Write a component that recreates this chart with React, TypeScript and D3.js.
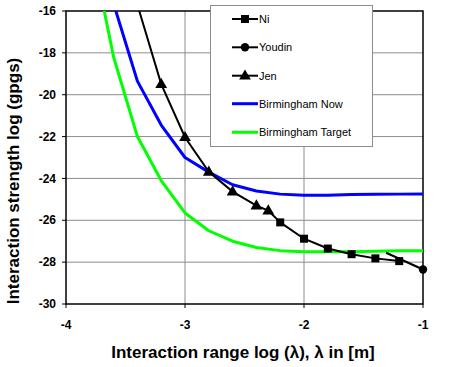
import React from "react";
import * as d3 from "d3";

const xTicks = [-4, -3, -2, -1];
const yTicks = [-16, -18, -20, -22, -24, -26, -28, -30];

const niX = [-2.2, -2.0, -1.8, -1.6, -1.4, -1.2];
const niY = [-26.1, -26.88, -27.35, -27.62, -27.82, -27.95];

const youdinX = [-1.31, -1.0];
const youdinY = [-27.55, -28.35];
const youdinMarkerIdx = [1];

const jenX = [-3.4, -3.2, -3.0, -2.8, -2.6, -2.4, -2.3, -2.2];
const jenY = [-15.7, -19.49, -22.03, -23.68, -24.63, -25.3, -25.54, -26.1];
const jenMarkerIdx = [1, 2, 3, 4, 5, 6];

const nowX = [-3.6, -3.4, -3.2, -3.0, -2.8, -2.6, -2.4, -2.2, -2.0, -1.8, -1.6, -1.4, -1.2, -1.0];
const nowY = [-15.65, -19.35, -21.45, -23.0, -23.7, -24.3, -24.6, -24.75, -24.8, -24.8, -24.77, -24.76, -24.75, -24.74];

const targetX = [-3.7, -3.6, -3.4, -3.2, -3.0, -2.8, -2.6, -2.4, -2.2, -2.0, -1.8, -1.6, -1.4, -1.2, -1.0];
const targetY = [-15.4, -18.2, -22.0, -24.1, -25.65, -26.5, -27.0, -27.3, -27.45, -27.5, -27.5, -27.5, -27.48, -27.46, -27.45];

const legendLabels = ["Ni", "Youdin", "Jen", "Birmingham Now", "Birmingham Target"];

const W = 450, H = 367;
const L = 66, R = 423, T = 11, B = 304;
const FONT = "Arial, 'Liberation Sans', sans-serif";

export default function App() {
  const x = d3.scaleLinear().domain([-4, -1]).range([L, R]);
  const y = d3.scaleLinear().domain([-30, -16]).range([B, T]);
  const line = d3.line<[number, number]>().x(d => x(d[0])).y(d => y(d[1]));
  const pts = (xs: number[], ys: number[]) => xs.map((v, i) => [v, ys[i]] as [number, number]);

  const sq = (cx: number, cy: number, k: string) => <rect key={k} x={cx - 4} y={cy - 4} width={8} height={8} fill="black" />;
  const circ = (cx: number, cy: number, k: string) => <circle key={k} cx={cx} cy={cy} r={4.2} fill="black" />;
  const tri = (cx: number, cy: number, k: string) => {
    const p = d3.symbol(d3.symbolTriangle, 60)();
    return <path key={k} d={p || ""} transform={`translate(${cx},${cy + 0.5})`} fill="black" />;
  };

  const legendYs = [19, 47.3, 75.7, 103.7, 132.3];

  return (
    <svg width={W} height={H} style={{ position: "absolute", left: 0, top: 0, background: "white" }} fontFamily={FONT}>
      <defs>
        <clipPath id="plotclip">
          <rect x={L} y={T} width={R - L} height={B - T} />
        </clipPath>
      </defs>
      {yTicks.filter(t => t !== -16 && t !== -30).map(t => (
        <line key={"gy" + t} x1={L} x2={R} y1={y(t)} y2={y(t)} stroke="#8c8c8c" strokeWidth={1} />
      ))}
      {xTicks.filter(t => t !== -4 && t !== -1).map(t => (
        <line key={"gx" + t} x1={x(t)} x2={x(t)} y1={T} y2={B} stroke="#8c8c8c" strokeWidth={1} />
      ))}
      <rect x={L} y={T} width={R - L} height={B - T} fill="none" stroke="black" strokeWidth={1.5} />
      {yTicks.map(t => (
        <g key={"ty" + t}>
          <line x1={L - 4} x2={L} y1={y(t)} y2={y(t)} stroke="black" strokeWidth={1} />
          <text x={L - 10} y={y(t)} dy="0.35em" textAnchor="end" fontSize={12} fontWeight="bold">{t}</text>
        </g>
      ))}
      {xTicks.map(t => (
        <g key={"tx" + t}>
          <line x1={x(t)} x2={x(t)} y1={B} y2={B + 4} stroke="black" strokeWidth={1} />
          <text x={x(t)} y={325} dy="0.35em" textAnchor="middle" fontSize={12} fontWeight="bold">{t}</text>
        </g>
      ))}
      <text x={243} y={352} dy="0.35em" textAnchor="middle" fontSize={17} fontWeight="bold">
        Interaction range log (λ), λ in [m]
      </text>
      <text transform={`translate(13,181) rotate(-90)`} dy="0.35em" textAnchor="middle" fontSize={17} fontWeight="bold">
        Interaction strength log (gpgs)
      </text>
      <g clipPath="url(#plotclip)">
        <path d={line(pts(targetX, targetY)) || ""} fill="none" stroke="#00ff00" strokeWidth={3} strokeLinejoin="round" />
        <path d={line(pts(nowX, nowY)) || ""} fill="none" stroke="#0000ff" strokeWidth={3} strokeLinejoin="round" />
        <path d={line(pts(jenX, jenY)) || ""} fill="none" stroke="black" strokeWidth={2} />
        <path d={line(pts(youdinX, youdinY)) || ""} fill="none" stroke="black" strokeWidth={2} />
        <path d={line(pts(niX, niY)) || ""} fill="none" stroke="black" strokeWidth={2} />
      </g>
      {jenMarkerIdx.map(i => tri(x(jenX[i]), y(jenY[i]), "jm" + i))}
      {niX.map((v, i) => sq(x(v), y(niY[i]), "nm" + i))}
      {youdinMarkerIdx.map(i => circ(x(youdinX[i]), y(youdinY[i]), "ym" + i))}
      <rect x={210.5} y={5.5} width={162} height={141} fill="white" stroke="#8c8c8c" strokeWidth={1} />
      {legendLabels.map((lab, i) => {
        const ly = legendYs[i];
        const color = i === 3 ? "#0000ff" : i === 4 ? "#00ff00" : "black";
        return (
          <g key={"lg" + i}>
            <line x1={232} x2={258} y1={ly} y2={ly} stroke={color} strokeWidth={i >= 3 ? 3 : 2} />
            {i === 0 && sq(245, ly, "ls")}
            {i === 1 && circ(245, ly, "lc")}
            {i === 2 && tri(245, ly, "lt")}
            <text x={259} y={ly} dy="0.35em" fontSize={11}>{lab}</text>
          </g>
        );
      })}
    </svg>
  );
}
